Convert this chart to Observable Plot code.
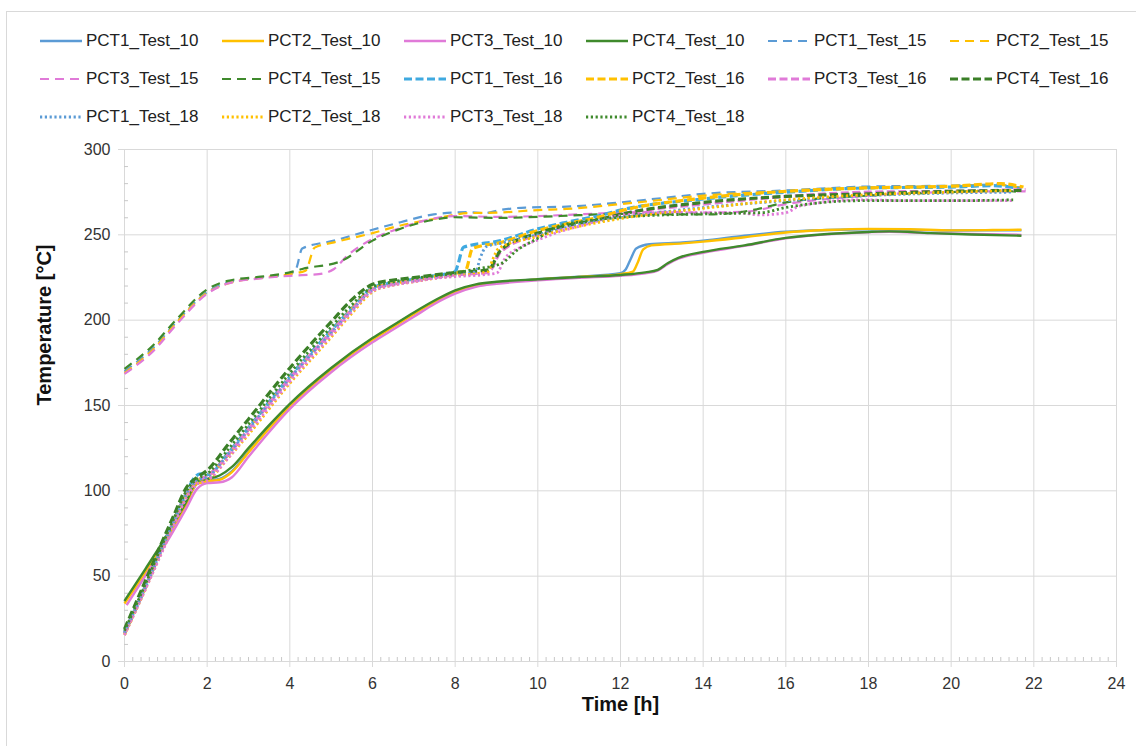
<!DOCTYPE html>
<html>
<head>
<meta charset="utf-8">
<script src="https://cdn.jsdelivr.net/npm/d3@7"></script>
<script src="https://cdn.jsdelivr.net/npm/@observablehq/plot@0.6"></script>
<style>
  html, body { margin: 0; padding: 0; background: #fff; }
  body { width: 1136px; height: 746px; overflow: hidden; position: relative;
         font-family: "Liberation Sans", Arial, sans-serif; }
  #frame { position: absolute; left: 6px; top: 11px; width: 1300px; height: 900px;
           border: 1px solid #d9d9d9; box-sizing: border-box; }
  #legend { position: absolute; left: 0; top: 0; width: 1136px; height: 135px; }
  .item { position: absolute; display: flex; align-items: center; height: 24px;
          font-size: 17px; color: #222; white-space: nowrap; }
  .item svg { display: block; margin-right: 4px; }
  #chart { position: absolute; left: 0; top: 135px; }
</style>
</head>
<body>
<div id="frame"></div>
<div id="legend"></div>
<div id="chart"></div>
<script>
// ---------- data (time [h], temperature [°C]) ----------
const PCT1_Test_10 = [[0,35],[0.5,53],[1,72],[1.5,93],[1.75,104],[2,106],[2.3,107],[2.6,111.5],[3,123],[3.5,137],[4,150],[5,171.5],[6,189],[6.5,196.5],[7,204],[7.5,211],[8,217],[8.5,220.5],[9,222],[10,224],[11,225.5],[12,227.5],[12.12,229.5],[12.25,236],[12.38,242],[12.7,244.5],[13.5,245.5],[14,246.5],[15,249.5],[16,251.8],[17,252.8],[18,253.3],[19,253],[20,252.5],[21,252.6],[21.7,252.7]];
const PCT2_Test_10 = [[0,34],[0.5,52],[1,71],[1.5,92.5],[1.75,104],[2,105.5],[2.3,106.5],[2.6,111],[3,122.5],[3.5,136.5],[4,149.5],[5,171],[6,188.5],[6.5,196],[7,203.5],[7.5,210.5],[8,216.5],[8.5,220],[9,221.8],[10,223.8],[11,225.3],[12,227],[12.3,228.5],[12.42,234],[12.55,241.5],[12.75,243.8],[13.5,245],[14,246],[15,248.6],[16,251.4],[17,252.8],[18,253.5],[19,253.3],[20,252.6],[21,252.8],[21.7,253]];
const PCT3_Test_10 = [[0.05,33],[0.5,50],[1,69],[1.5,90],[1.75,101],[2,104.5],[2.3,105],[2.6,108],[3,120],[3.5,134.5],[4,148],[5,169.5],[6,187],[6.5,194.5],[7,202],[7.5,209.5],[8,215.5],[8.5,219.5],[9,221.3],[10,223.3],[11,224.8],[12,226],[12.6,227.5],[12.9,229],[13.15,233],[13.4,236],[14,239.5],[15,243.5],[16,248],[17,250.3],[18,251.5],[18.5,251.8],[19.5,251],[20.5,250.5],[21.7,250]];
const PCT4_Test_10 = [[0,35.5],[0.5,54],[1,73],[1.5,94],[1.75,105.5],[2,107],[2.3,109],[2.6,114],[3,125],[3.5,138.5],[4,151],[5,172],[6,189.5],[6.5,197],[7,204.5],[7.5,211.5],[8,217.5],[8.5,221],[9,222.5],[10,224],[11,225.3],[12,226.5],[12.6,228],[12.9,229.5],[13.15,233.5],[13.4,236.5],[14,240],[15,243.8],[16,248.2],[17,250.5],[18,251.7],[18.5,252],[19.5,251],[20.5,250.2],[21.7,249.5]];

const PCT1_Test_15 = [[0,170],[0.7,184],[1.26,199],[2,216.5],[2.5,222],[3.3,225],[4,227],[4.15,230],[4.3,242],[5.07,246.6],[6,253],[6.68,257.4],[7.48,262],[8.3,263.3],[8.7,262.7],[9.1,264.6],[9.7,266],[10.7,266.5],[12,269],[13,271.5],[14,274],[16,276],[18,278.3],[20,278.8],[21.1,279.4],[21.7,277.5]];
const PCT2_Test_15 = [[0,169],[0.7,183],[1.26,198.5],[2,216],[2.5,221.5],[3.3,224.8],[4,227],[4.38,229],[4.6,242.5],[5.07,245.6],[6,251],[6.68,255.5],[7.48,259.3],[8.3,262.7],[9,263],[10,264.5],[10.7,265.2],[12,268],[13,270.5],[14,273],[16,275.4],[18,277.6],[20,278.5],[21.2,279.2],[21.75,277]];
const PCT3_Test_15 = [[0,168.5],[0.7,182],[1.26,197.5],[2,215.5],[2.5,221.5],[3.3,224.5],[4,226],[4.7,227],[5.07,230],[5.39,237.8],[6,247.6],[6.68,254],[7.48,259.5],[8,261],[9.1,260.5],[10,261],[11,262],[12,263],[13,263.5],[14,263],[15,263.5],[16,268],[17,271],[18,273],[19,274.5],[20,275],[21,275.5],[21.8,275.5]];
const PCT4_Test_15 = [[0,171.5],[0.7,185.5],[1.26,200.5],[2,218],[2.5,223],[3.3,225.5],[4,228],[4.3,230],[5.23,234.5],[6,246.6],[6.68,253.6],[7.48,258.8],[8,260.3],[9.1,259.9],[10,260.5],[11,261.5],[12,262.3],[13,262],[14,262],[14.6,262.5],[15.3,265],[16,269],[18,273],[20,275],[21,276],[21.7,275]];

const PCT1_Test_16 = [[0,17],[0.5,44],[0.87,65],[1.2,83],[1.5,99],[1.7,108],[1.85,110],[2,109.5],[2.5,122],[3,137],[4,167],[5,194],[5.5,207],[6,219],[6.5,222],[7,224],[7.5,226],[8,228.5],[8.06,232],[8.2,242.7],[9.1,246.6],[10,253.5],[10.7,257.4],[11.5,261.3],[12,264.5],[14,271],[16,275],[18,277.5],[20,278],[21,278.8],[21.7,277]];
const PCT2_Test_16 = [[0,16],[0.5,43],[0.87,64],[1.2,82],[1.5,98],[1.76,106],[2,108.5],[2.5,121],[3,136],[4,166],[5,193],[5.5,206.5],[6,218.5],[6.5,221.5],[7,223.5],[7.5,225.5],[8,227.5],[8.25,229],[8.42,242],[9.1,245.5],[10,252.5],[10.7,256.5],[11.5,260.5],[12,264],[14,271.5],[16,275.5],[18,277.5],[20,278.5],[21.2,280],[21.75,278]];
const PCT3_Test_16 = [[0,16.5],[0.5,43],[0.87,64],[1.2,82],[1.5,98],[1.76,106],[2,108.5],[2.5,121],[3,136],[4,166],[5,193],[5.5,206],[6,218],[6.5,221],[7,223],[7.5,225],[8,226.5],[8.8,228],[9.1,240],[10,250],[10.7,255],[11.5,259],[12,262],[14,268],[16,272.5],[18,275],[20,275.5],[21.8,276.5]];
const PCT4_Test_16 = [[0,19],[0.5,47],[0.87,68],[1.2,86],[1.5,102],[1.76,108],[2,112],[2.5,127],[3,142],[4,172],[5,199],[5.5,212],[6,221],[6.5,223.5],[7,225],[7.5,226.5],[8,228],[8.8,229.5],[9.1,241],[10,251],[10.7,255.5],[11.5,259],[12,262],[14,269],[16,272.5],[18,274],[20,275.5],[21.7,276]];

const PCT1_Test_18 = [[0,16.5],[0.5,43],[0.87,64],[1.2,82],[1.5,98],[1.76,106],[2,108],[2.5,121],[3,136],[4,166],[5,192.5],[5.5,206],[6,217.5],[6.5,221],[7,223],[7.5,225],[8,226.5],[8.5,228.5],[8.6,236],[8.75,243],[9.1,245],[10,250],[11,256],[12,260],[14,266],[16,270],[18,273],[20,274.5],[21.5,275]];
const PCT2_Test_18 = [[0,15.5],[0.5,42],[0.87,62.5],[1.2,80.5],[1.5,96.5],[1.76,104.5],[2,106],[2.5,119],[3,133],[4,163],[5,190],[5.5,204],[6,216.5],[6.5,220.5],[7,222.5],[7.5,224.5],[8,226],[8.8,228.5],[8.9,235],[9.05,242],[10,249],[11,255],[12,259.5],[14,265.5],[16,270.5],[18,273.5],[20,275],[21.5,276]];
const PCT3_Test_18 = [[0,15.5],[0.5,42],[0.87,62],[1.2,80],[1.5,96],[1.76,104],[2,106],[2.5,119],[3,134],[4,164],[5,191],[5.5,205],[6,217],[6.5,220.5],[7,222.5],[7.5,224.5],[8,225.5],[9,227.5],[9.2,236],[9.6,243],[10,247],[10.55,252],[11,255],[12,261.3],[13,263],[14,263],[14.8,263],[15.4,261.7],[16,263],[16.35,267],[17.8,270.5],[19,270],[20,270],[21.5,270]];
const PCT4_Test_18 = [[0,18],[0.5,45],[0.87,66],[1.2,84],[1.5,100],[1.76,107],[2,110],[2.5,124],[3,139],[4,169],[5,196],[5.5,209],[6,219.5],[6.5,222.5],[7,224.5],[7.5,226],[8,227.5],[8.5,230],[9.1,233],[9.5,241],[10,248],[10.55,255.4],[11,257.5],[12,260.3],[14,262.3],[15.4,263],[16,266],[17.8,270],[19,270],[20,270],[21.5,270.5]];

const seriesNames = ["PCT1_Test_10","PCT2_Test_10","PCT3_Test_10","PCT4_Test_10",
                     "PCT1_Test_15","PCT2_Test_15","PCT3_Test_15","PCT4_Test_15",
                     "PCT1_Test_16","PCT2_Test_16","PCT3_Test_16","PCT4_Test_16",
                     "PCT1_Test_18","PCT2_Test_18","PCT3_Test_18","PCT4_Test_18"];
const seriesValues = [PCT1_Test_10, PCT2_Test_10, PCT3_Test_10, PCT4_Test_10,
                      PCT1_Test_15, PCT2_Test_15, PCT3_Test_15, PCT4_Test_15,
                      PCT1_Test_16, PCT2_Test_16, PCT3_Test_16, PCT4_Test_16,
                      PCT1_Test_18, PCT2_Test_18, PCT3_Test_18, PCT4_Test_18];
const xTicks = [0,2,4,6,8,10,12,14,16,18,20,22,24];
const yTicks = [0,50,100,150,200,250,300];
const xMinorTicks = d3.range(0, 120).map(i => i * 0.2).filter(v => Math.abs(v / 2 - Math.round(v / 2)) > 1e-6);
const yMinorTicks = d3.range(0, 30).map(i => i * 10).filter(v => v % 50 !== 0);
const xTitle = "Time [h]";
const yTitle = "Temperature [°C]";

// ---------- styles ----------
const pctColors = {PCT1: "#5b9bd5", PCT2: "#ffc000", PCT3: "#e07ad8", PCT4: "#3f8a2c"};
const pct16Colors = {PCT1: "#3fa9e0", PCT2: "#ffc000", PCT3: "#e07ad8", PCT4: "#3a7f27"};
const testStyles = {
  "10": {dash: null, width: 2.4},
  "15": {dash: "9,6", width: 2.2},
  "16": {dash: "8,3.5", width: 3.2},
  "18": {dash: "2.2,2.6", width: 2.8}
};
function styleOf(name) {
  const [pct, , test] = name.split("_");
  const color = test === "16" ? pct16Colors[pct] : pctColors[pct];
  return {color, ...testStyles[test]};
}

// ---------- legend ----------
const legend = document.getElementById("legend");
seriesNames.forEach((name, i) => {
  const col = i % 6, row = Math.floor(i / 6);
  const s = styleOf(name);
  const item = document.createElement("div");
  item.className = "item";
  item.style.left = (40 + col * 182) + "px";
  item.style.top = (29 + row * 38) + "px";
  const ns = "http://www.w3.org/2000/svg";
  const svg = document.createElementNS(ns, "svg");
  svg.setAttribute("width", 42); svg.setAttribute("height", 10);
  const ln = document.createElementNS(ns, "line");
  ln.setAttribute("x1", 0); ln.setAttribute("x2", 42);
  ln.setAttribute("y1", 5); ln.setAttribute("y2", 5);
  ln.setAttribute("stroke", s.color);
  ln.setAttribute("stroke-width", s.width);
  if (s.dash) ln.setAttribute("stroke-dasharray", s.dash);
  svg.appendChild(ln);
  item.appendChild(svg);
  const span = document.createElement("span");
  span.textContent = name;
  item.appendChild(span);
  legend.appendChild(item);
});

// ---------- chart ----------
const lineMarks = seriesNames.map((name, i) => {
  const s = styleOf(name);
  const rows = seriesValues[i].map(([t, v]) => ({t, v}));
  return Plot.line(rows, {
    x: "t", y: "v", stroke: s.color, strokeWidth: s.width,
    strokeDasharray: s.dash || undefined, curve: "monotone-x",
    strokeLinecap: "butt", strokeLinejoin: "round"
  });
});

const chart = Plot.plot({
  width: 1136,
  height: 595,
  marginTop: 14,
  marginBottom: 69,
  marginLeft: 124,
  marginRight: 20,
  style: {fontFamily: "'Liberation Sans', Arial, sans-serif", background: "transparent"},
  x: {domain: [0, 24]},
  y: {domain: [0, 300]},
  marks: [
    Plot.gridX(xTicks, {stroke: "#d9d9d9", strokeOpacity: 1, strokeWidth: 1, insetBottom: -6}),
    Plot.gridY(yTicks, {stroke: "#d9d9d9", strokeOpacity: 1, strokeWidth: 1, insetLeft: -6}),
    Plot.ruleX(xMinorTicks, {x: d => d, y1: 0, y2: 0, insetTop: -4, stroke: "#c8c8c8", strokeWidth: 1}),
    Plot.ruleY(yMinorTicks, {y: d => d, x1: 0, x2: 0, insetRight: -4, stroke: "#c8c8c8", strokeWidth: 1}),
    ...lineMarks,
    Plot.axisX(xTicks, {tickSize: 0, tickPadding: 16, fontSize: 16, fill: "#333", label: null}),
    Plot.axisY(yTicks, {tickSize: 0, tickPadding: 14, fontSize: 16, fill: "#333", label: null}),
    Plot.text([xTitle], {text: d => d, frameAnchor: "bottom", dy: 49, fontSize: 20, fontWeight: "bold", fill: "#111"}),
    Plot.text([yTitle], {text: d => d, frameAnchor: "left", dx: -80, rotate: -90, fontSize: 20, fontWeight: "bold", fill: "#111"})
  ]
});
document.getElementById("chart").appendChild(chart);
</script>
</body>
</html>
